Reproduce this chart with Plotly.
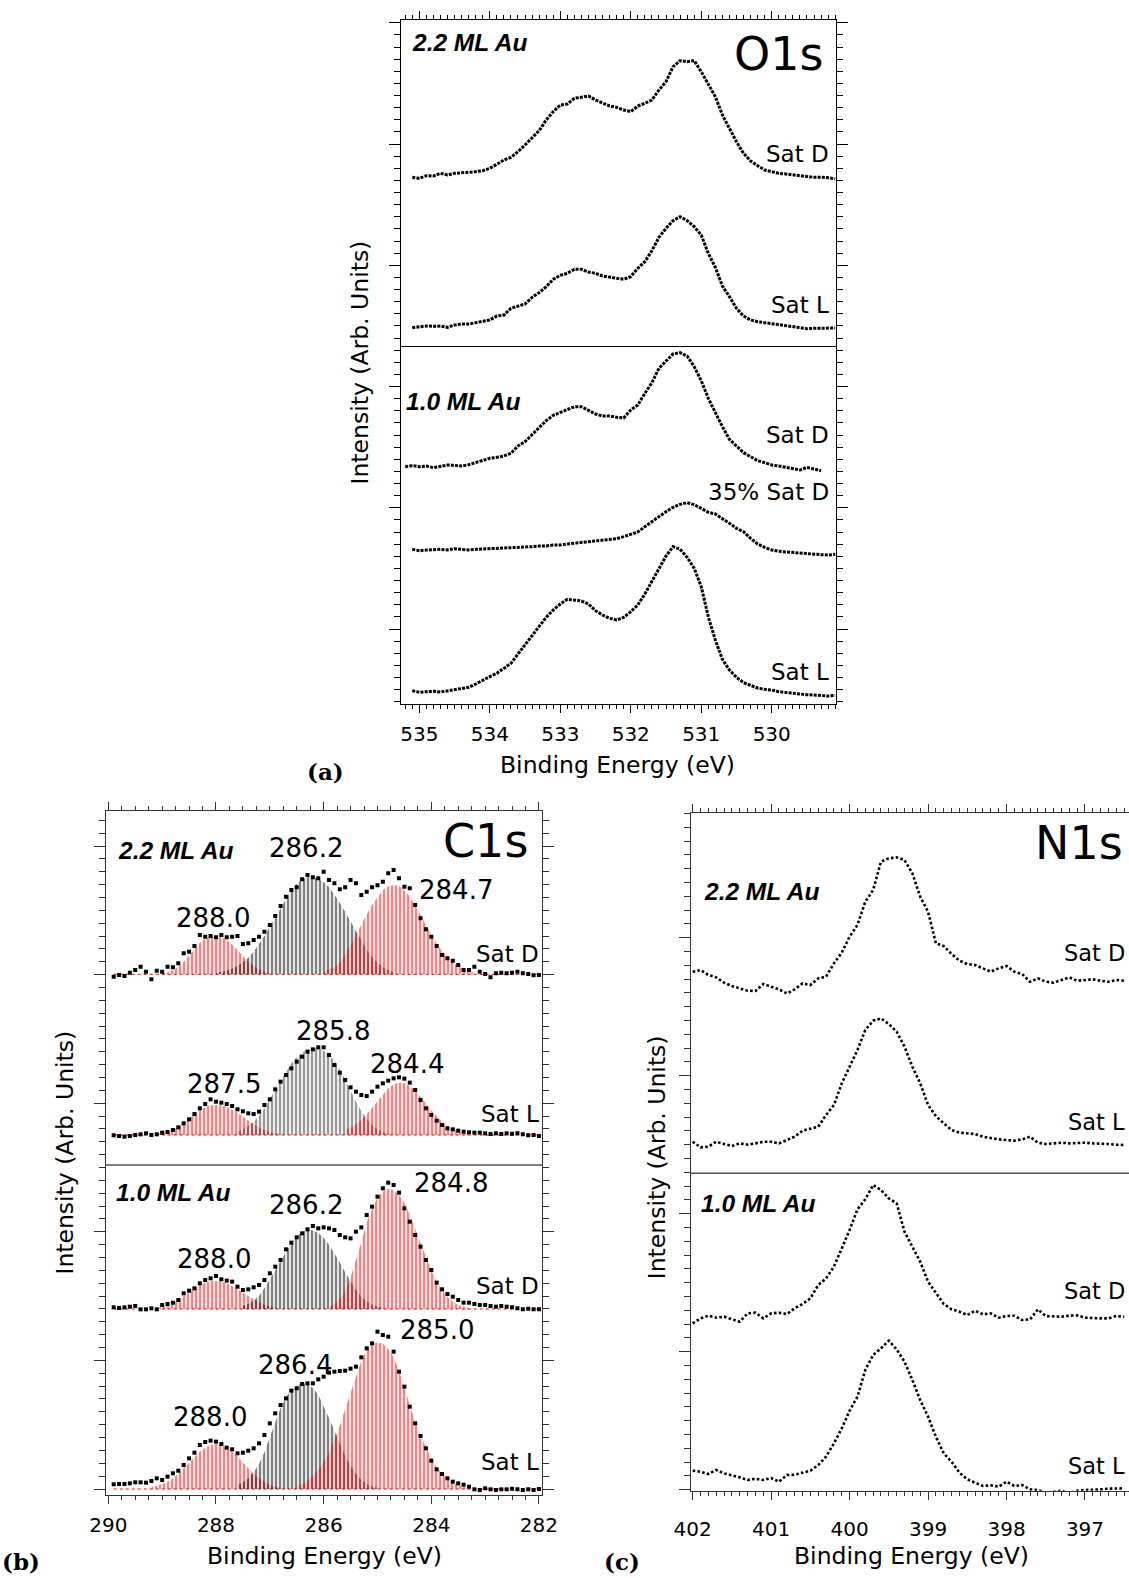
import plotly.graph_objects as go

W, H = 1129, 1578
STEP = 0.1  # eV sampling of the values

# ---------------- Panel (a) O1s : intensities (arb.) above each baseline ----------------
o1s_22_satD_start = 535.1
o1s_22_satD = [1, -2, 6, 5, 13, 8, 13, 14, 15, 18, 21, 28, 40, 53, 61, 78, 98, 118, 141, 173,
               198, 218, 221, 238, 241, 245, 233, 225, 215, 211, 203, 198, 215, 223, 233, 263, 288, 333, 351, 348,
               351, 318, 281, 243, 188, 148, 108, 73, 50, 36, 23, 18, 13, 11, 8, 6, 3, 1, 1, 0, -4]
o1s_22_satL_start = 535.1
o1s_22_satL = [-3, 0, 2, 1, 2, -2, 5, 8, 8, 12, 15, 20, 32, 35, 55, 62, 68, 88, 102, 120,
               142, 154, 160, 172, 172, 164, 160, 152, 148, 146, 142, 150, 175, 195, 228, 268, 295, 318, 330, 318,
               300, 275, 220, 178, 122, 90, 55, 32, 20, 15, 12, 10, 6, 2, 0, -4, -6, -5, -4, -5, -4]
o1s_10_satD_start = 535.2
o1s_10_satD = [-2, 1, -2, 0, -5, 0, 3, 2, 0, 4, 11, 18, 23, 26, 30, 38, 60, 73, 93, 116,
               136, 152, 160, 170, 178, 178, 166, 156, 150, 150, 146, 144, 168, 183, 218, 250, 293, 316, 336, 340,
               330, 298, 256, 203, 158, 118, 80, 60, 40, 28, 16, 10, 3, 0, -4, -8, -12, -4, -10, -14]
o1s_10_35satD_start = 535.1
o1s_10_35satD = [0, -4, -2, 0, 0, -2, 2, 0, -2, 0, 1, 2, 2, 3, 3, 5, 6, 8, 10, 10,
                 13, 13, 16, 18, 22, 23, 24, 26, 30, 32, 38, 44, 52, 68, 83, 100, 113, 126, 135, 140,
                 134, 123, 111, 106, 93, 78, 63, 53, 33, 16, 6, -2, -6, -8, -10, -12, -14, -14, -16, -17, -15]
o1s_10_satL_start = 535.1
o1s_10_satL = [3, -2, 0, 1, -1, 3, 7, 10, 13, 23, 35, 45, 55, 70, 85, 113, 140, 167, 193, 223,
               245, 263, 277, 275, 272, 263, 243, 230, 220, 215, 223, 240, 260, 293, 330, 370, 407, 435, 427, 403,
               370, 315, 225, 155, 97, 65, 43, 27, 19, 11, 7, 5, 0, -3, -5, -7, -9, -11, -13, -13, -11]
o1s_offsets = [1579, 1132, 714, 464, 37]

# ---------------- Panel (b) C1s ----------------
c1s_start = 289.9
c1s_22_satD = [-7, -2, -5, 5, 13, 23, 8, -15, 11, 8, 23, 21, 33, 63, 68, 85, 118, 113, 115, 111,
               118, 111, 113, 115, 91, 93, 103, 113, 128, 148, 175, 205, 233, 253, 261, 285, 298, 291, 288, 308,
               283, 273, 255, 261, 283, 273, 238, 248, 261, 267, 278, 303, 313, 288, 263, 258, 208, 168, 135, 113,
               85, 58, 48, 41, 28, 13, 13, 23, 8, 1, -9, 3, 5, 3, 5, 8, 3, 1, -3, -2]
c1s_22_satL = [-1, -3, -5, -3, 0, 2, 5, 0, 2, 7, 9, 15, 23, 35, 47, 63, 80, 93, 107, 100,
               97, 93, 87, 77, 71, 65, 63, 70, 90, 107, 137, 160, 180, 200, 220, 235, 250, 257, 263, 263,
               240, 210, 187, 165, 143, 130, 120, 117, 130, 145, 155, 163, 170, 173, 169, 157, 135, 105, 80, 60,
               43, 30, 20, 17, 13, 10, 8, 7, 7, 5, 3, 5, 3, 5, 4, 5, 2, -1, 0, -3]
c1s_10_satD = [5, 3, 5, 7, 9, -1, -1, 2, -1, 12, 15, 19, 27, 47, 55, 62, 77, 87, 92, 99,
               89, 85, 82, 67, 57, 59, 65, 72, 87, 107, 127, 147, 179, 199, 215, 227, 239, 249, 242, 245,
               242, 237, 222, 215, 212, 232, 245, 282, 307, 337, 362, 379, 372, 349, 302, 262, 222, 187, 147, 117,
               79, 59, 45, 37, 27, 19, 19, 15, 12, 12, 9, 7, 9, 7, 5, 2, -1, 1, -1, -1]
c1s_10_satL = [14, 15, 15, 17, 20, 20, 19, 24, 32, 27, 37, 47, 55, 72, 92, 109, 132, 141, 145, 142,
               135, 124, 119, 107, 109, 115, 122, 137, 162, 197, 227, 252, 272, 295, 302, 315, 317, 317, 329, 337,
               349, 352, 354, 355, 361, 367, 395, 422, 437, 472, 462, 457, 412, 352, 307, 247, 197, 159, 122, 85,
               59, 45, 32, 22, 17, 13, 7, -1, -3, 2, -1, -3, -1, -1, 1, -1, -3, -1, -3, 0]
c1s_offsets = [1562, 1080, 558, 18]

# fitted components (start energy, values), colour per component
c1s_22_satD_comps = [(289.0, [3, 6, 12, 22, 38, 56, 76, 94, 107, 114, 116, 112, 103, 89, 72, 54, 38, 25, 15, 8, 4], "red"),
                     (288.0, [4, 7, 11, 17, 25, 36, 50, 68, 90, 115, 142, 170, 200, 228, 253, 272, 285, 291, 291, 287,
                              276, 262, 240, 215, 187, 158, 128, 100, 74, 52, 35, 22, 13, 7], "black"),
                     (286.0, [8, 14, 22, 34, 60, 88, 118, 150, 180, 208, 232, 252, 264, 268, 265, 252, 233, 207, 178, 148,
                              118, 92, 70, 51, 36, 24, 15, 9, 5], "red")]
c1s_22_satL_comps = [(289.1, [3, 5, 9, 15, 24, 36, 50, 63, 75, 84, 89, 90, 89, 85, 77, 67, 55, 43, 32, 22, 15, 9, 5, 3], "red"),
                     (287.6, [10, 17, 27, 40, 57, 80, 108, 135, 165, 192, 215, 233, 247, 256, 260, 260, 253, 240, 222, 198,
                              165, 130, 100, 72, 48, 30, 17, 9, 4], "#333333"),
                     (285.6, [15, 22, 32, 45, 62, 82, 103, 123, 140, 152, 157, 155, 147, 133, 115, 95, 74, 55, 39, 27,
                              17, 10, 6, 3], "red")]
c1s_10_satD_comps = [(289.1, [3, 6, 10, 17, 27, 38, 50, 62, 72, 79, 83, 84, 82, 77, 69, 60, 49, 39, 29, 20, 13, 8, 4], "red"),
                     (287.5, [10, 16, 25, 40, 62, 90, 115, 142, 172, 198, 218, 231, 237, 236, 228, 213, 193, 168, 140, 110,
                              82, 57, 37, 23, 13, 7, 3], "black"),
                     (285.9, [8, 15, 30, 55, 95, 145, 200, 260, 300, 335, 352, 360, 356, 342, 318, 282, 240, 198, 155, 115,
                              82, 56, 36, 22, 13, 7, 3], "red")]
c1s_10_satL_comps = [(289.2, [5, 9, 14, 22, 32, 46, 62, 80, 97, 112, 124, 132, 135, 132, 124, 112, 97, 80, 62, 46,
                              32, 21, 13, 7, 4], "red"),
                     (287.6, [12, 20, 32, 50, 75, 110, 155, 200, 243, 275, 297, 310, 317, 315, 303, 283, 250, 213, 175, 135,
                              100, 70, 46, 28, 16, 8, 4], "black"),
                     (286.5, [8, 15, 25, 40, 58, 80, 110, 148, 190, 240, 290, 340, 385, 418, 436, 440, 436, 420, 395, 355,
                              305, 250, 200, 160, 125, 92, 65, 45, 30, 19, 12, 7, 4], "red")]

# ---------------- Panel (c) N1s ----------------
n1s_start = 402.0
n1s_22_satD = [25, 30, 15, 8, -8, -18, -25, -32, -33, -12, -20, -28, -40, -28, -10, -15, 5, 10, 50, 82,
               130, 165, 235, 270, 355, 365, 368, 360, 320, 250, 205, 110, 102, 78, 58, 48, 45, 35, 25, 35,
               42, 25, 18, -5, 5, -5, -8, 0, 8, -2, 0, 2, -2, -5, 0, -2]
n1s_22_satL = [7, -10, -8, 7, 0, -6, 2, -2, 2, 7, 7, 2, 12, 22, 40, 46, 52, 87, 117, 182,
               234, 282, 342, 370, 377, 360, 337, 292, 232, 182, 117, 84, 62, 42, 34, 32, 30, 22, 17, 14,
               12, 10, 14, 22, 4, 0, 2, 4, 2, 4, 4, 2, 2, 0, -2, -3]
n1s_10_satD = [-20, -5, 3, -3, 0, -8, -15, 10, 12, -5, 10, 12, 8, 25, 38, 55, 95, 115, 150, 205,
               260, 322, 352, 395, 380, 355, 340, 255, 210, 165, 105, 70, 38, 22, 15, 5, 18, 7, 10, -3,
               2, 3, -10, -8, 22, 2, 0, 0, 3, 4, -3, -5, -5, -5, 2, 0]
n1s_10_satL = [58, 55, 48, 60, 50, 45, 38, 30, 34, 30, 36, 25, 45, 46, 52, 58, 75, 100, 140, 185,
               238, 280, 360, 405, 425, 448, 422, 385, 330, 270, 220, 160, 110, 85, 52, 32, 22, 12, 14, 10,
               25, 12, 15, 2, 0, -8, -5, -2, -10, -2, 0, 0, 2, 4, 5, 5]
n1s_offsets = [1532, 1040, 522, 2]


def energies(start, n):
    return [round(start - i * STEP, 3) for i in range(n)]


def px(x):
    return x / W


def py(y):
    return 1 - y / H


fig = go.Figure()

# ---- O1s traces
o1s_sets = [(o1s_22_satD_start, o1s_22_satD), (o1s_22_satL_start, o1s_22_satL),
            (o1s_10_satD_start, o1s_10_satD), (o1s_10_35satD_start, o1s_10_35satD),
            (o1s_10_satL_start, o1s_10_satL)]
for (st, vals), off in zip(o1s_sets, o1s_offsets):
    fig.add_trace(go.Scatter(x=energies(st, len(vals)), y=[v + off for v in vals], mode="lines",
                             line=dict(color="black", width=3, dash="3px,1.2px"),
                             xaxis="x", yaxis="y", showlegend=False))

# ---- C1s traces
c1s_sets = [(c1s_22_satD, c1s_22_satD_comps), (c1s_22_satL, c1s_22_satL_comps),
            (c1s_10_satD, c1s_10_satD_comps), (c1s_10_satL, c1s_10_satL_comps)]
for (vals, comps), off in zip(c1s_sets, c1s_offsets):
    xs_all = energies(c1s_start, len(vals))
    # red dotted baseline of the fit
    fig.add_trace(go.Scatter(x=xs_all, y=[off] * len(xs_all), mode="lines",
                             line=dict(color="red", width=1, dash="dot"),
                             xaxis="x2", yaxis="y2", showlegend=False))
    for st, cv, col in comps:
        xs = energies(st, len(cv))
        fig.add_trace(go.Scatter(x=xs + xs[::-1], y=[v + off for v in cv] + [off] * len(cv),
                                 mode="lines", fill="toself", line=dict(width=0, color=col),
                                 fillcolor="rgba(0,0,0,0)",
                                 fillpattern=dict(shape="|", fgcolor=col, bgcolor="rgba(255,255,255,0)",
                                                  size=4, solidity=0.6),
                                 xaxis="x2", yaxis="y2", showlegend=False, hoverinfo="skip"))
    fig.add_trace(go.Scatter(x=xs_all, y=[v + off for v in vals], mode="markers",
                             marker=dict(symbol="square", size=4, color="black"),
                             xaxis="x2", yaxis="y2", showlegend=False))

# ---- N1s traces
for vals, off in zip([n1s_22_satD, n1s_22_satL, n1s_10_satD, n1s_10_satL], n1s_offsets):
    fig.add_trace(go.Scatter(x=energies(n1s_start, len(vals)), y=[v + off for v in vals], mode="lines",
                             line=dict(color="black", width=2.6, dash="2.6px,2.2px"),
                             xaxis="x3", yaxis="y3", showlegend=False))

TF = dict(family="DejaVu Sans", size=20, color="black")


def xax(domain, rng, dtick, tick0, minor, color, standoff, mirror="ticks"):
    return dict(domain=domain, range=rng, autorange=False, automargin=False, showgrid=False, zeroline=False,
                showline=True, linecolor=color, linewidth=1.3, mirror=mirror,
                ticks="outside", ticklen=8, tickwidth=1.2, tickcolor=color,
                dtick=dtick, tick0=tick0, tickfont=TF, ticklabelstandoff=standoff,
                minor=dict(dtick=minor, tick0=tick0, ticks="outside", ticklen=4, tickwidth=1, tickcolor=color))


def yax(domain, rng, tick0, dtick, color, mirror="ticks"):
    return dict(domain=domain, range=rng, autorange=False, automargin=False, showgrid=False, zeroline=False,
                showline=True, linecolor=color, linewidth=1.3, mirror=mirror,
                ticks="outside", ticklen=11, tickwidth=1.2, tickcolor=color,
                tick0=tick0, dtick=dtick, showticklabels=False,
                minor=dict(dtick=dtick / 10, tick0=tick0, ticks="outside", ticklen=6, tickwidth=1, tickcolor=color))


fig.update_layout(
    width=W, height=H, margin=dict(l=0, r=0, t=0, b=0, autoexpand=False),
    paper_bgcolor="white", plot_bgcolor="white", showlegend=False,
    xaxis=xax([px(400.7), px(836)], [535.264, 529.088], 1, 530, 0.1, "black", 4),
    yaxis=yax([py(704), py(20)], [0, 2052], 225, 363.75, "black"),
    xaxis2=xax([px(106), px(542.3)], [290.043, 281.938], 2, 282, 0.25, "#333333", 4),
    yaxis2=yax([py(1495), py(811)], [0, 2052], 18, 385.8, "#333333"),
    xaxis3=xax([px(690.7), 1.0], [402.025, 396.439], 1, 397, 0.1, "#333333", 12),
    yaxis3=yax([py(1490.7), py(812.7)], [0, 2034], 3, 414, "#333333", mirror=False),
)
fig.layout.xaxis.anchor = "y"
fig.layout.yaxis.anchor = "x"
fig.layout.xaxis2.anchor = "y2"
fig.layout.yaxis2.anchor = "x2"
fig.layout.xaxis3.anchor = "y3"
fig.layout.yaxis3.anchor = "x3"

# divider lines between the 2.2 ML and 1.0 ML blocks
fig.add_shape(type="line", xref="x domain", yref="y", x0=0, x1=1, y0=1072.5, y1=1072.5,
              line=dict(color="black", width=1.2))
fig.add_shape(type="line", xref="x2 domain", yref="y2", x0=0, x1=1, y0=990, y1=990,
              line=dict(color="#555555", width=1.5))
fig.add_shape(type="line", xref="x3 domain", yref="y3", x0=0, x1=1, y0=952, y1=952,
              line=dict(color="#555555", width=1.5))

SANS = "DejaVu Sans"
BI = "Liberation Sans"
VIEW = 1129 / 1122  # label positions below were read on the 1122-px wide view


def txt(text, x, y, size, xanchor="center", family=SANS, angle=0):
    fig.add_annotation(text=text, x=px(x * VIEW), y=py(y * VIEW), xref="paper", yref="paper", showarrow=False,
                       xanchor=xanchor, yanchor="middle", textangle=angle,
                       font=dict(family=family, size=size, color="black"))


# panel (a)
txt("<b><i>2.2 ML Au</i></b>", 407, 42, 24.5, "left", BI)
txt("O1s", 820, 54, 46, "right")
txt("Sat D", 826, 153, 23, "right")
txt("Sat L", 826, 303, 23, "right")
txt("<b><i>1.0 ML Au</i></b>", 401, 399, 24.5, "left", BI)
txt("Sat D", 826, 432, 23, "right")
txt("35% Sat D", 826, 489, 23, "right")
txt("Sat L", 826, 668, 23, "right")
txt("Binding Energy (eV)", 614, 760, 23.5)
txt("Intensity (Arb. Units)", 358, 360, 23.5, angle=-90)
txt("<b>(a)</b>", 323, 767, 23, family="DejaVu Serif")

# panel (b)
txt("<b><i>2.2 ML Au</i></b>", 115, 845, 24.5, "left", BI)
txt("C1s", 527, 836, 46, "right")
for s, x, y in [("286.2", 304, 843), ("288.0", 212, 912), ("284.7", 453, 884), ("285.8", 331, 1025),
                ("287.5", 223, 1077), ("284.4", 404, 1057), ("286.2", 304, 1198), ("284.8", 448, 1176),
                ("288.0", 213, 1251), ("285.0", 434, 1322), ("286.4", 293, 1357), ("288.0", 209, 1408)]:
    txt(s, x, y, 26)
txt("Sat D", 538, 948, 23, "right")
txt("Sat L", 538, 1107, 23, "right")
txt("<b><i>1.0 ML Au</i></b>", 113, 1185, 24.5, "left", BI)
txt("Sat D", 538, 1278, 23, "right")
txt("Sat L", 538, 1453, 23, "right")
txt("Binding Energy (eV)", 322, 1546, 23.5)
txt("Intensity (Arb. Units)", 65, 1145, 23.5, angle=-90)
txt("<b>(b)</b>", 21, 1552, 23, family="DejaVu Serif")

# panel (c)  (labels at the right edge kept just inside the page)
txt("N1s", 1118, 838, 46, "right")
txt("<b><i>2.2 ML Au</i></b>", 698, 886, 24.5, "left", BI)
txt("Sat D", 1120, 947, 22.5, "right")
txt("Sat L", 1120, 1115, 22.5, "right")
txt("<b><i>1.0 ML Au</i></b>", 695, 1196, 24.5, "left", BI)
txt("Sat D", 1120, 1283, 22.5, "right")
txt("Sat L", 1120, 1457, 22.5, "right")
txt("Binding Energy (eV)", 906, 1546, 23.5)
txt("Intensity (Arb. Units)", 653, 1150, 23.5, angle=-90)
txt("<b>(c)</b>", 618, 1552, 23, family="DejaVu Serif")

fig.write_html(
    "out.html",
    config={"displayModeBar": False},
    post_script="document.body.style.margin='0';document.body.style.padding='0';"
                "document.documentElement.style.overflow='hidden';document.body.style.overflow='hidden';",
)
